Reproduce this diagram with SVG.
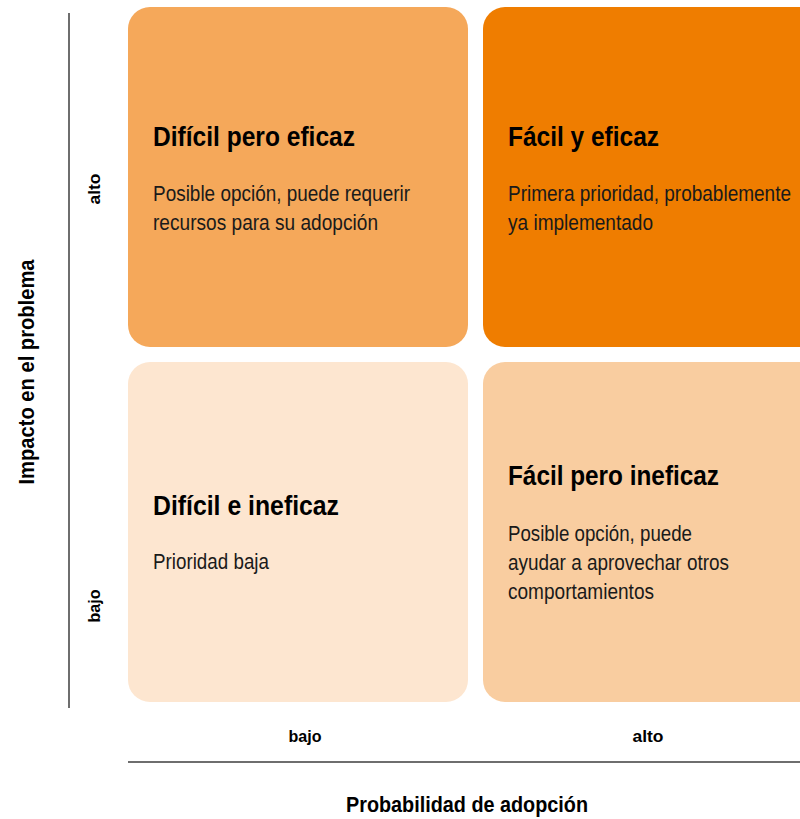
<svg xmlns="http://www.w3.org/2000/svg" width="800" height="819" viewBox="0 0 800 819">
<style>
.t{font-family:"Liberation Sans",Arial,sans-serif;font-weight:bold;font-size:27.5px;fill:#000}
.b{font-family:"Liberation Sans",Arial,sans-serif;font-size:21.5px;fill:#1a1a1a}
.ax{font-family:"Liberation Sans",Arial,sans-serif;font-weight:bold;font-size:17px;fill:#000}
.at{font-family:"Liberation Sans",Arial,sans-serif;font-weight:bold;font-size:22px;fill:#000}
.ln{stroke:#6e6e6e;stroke-width:2;fill:none}
</style>
<rect width="800" height="819" fill="#fff"/>
<g id="axes">
<line class="ln" x1="69" y1="13" x2="69" y2="708"/>
<line class="ln" x1="128" y1="762" x2="800" y2="762"/>
<text class="ax" x="305" y="742" text-anchor="middle" textLength="33" lengthAdjust="spacingAndGlyphs">bajo</text>
<text class="ax" x="648" y="742" text-anchor="middle" textLength="31" lengthAdjust="spacingAndGlyphs">alto</text>
<text class="at" x="467" y="812" text-anchor="middle" textLength="242" lengthAdjust="spacingAndGlyphs">Probabilidad de adopción</text>
<text class="ax" transform="translate(100,189) rotate(-90)" text-anchor="middle" textLength="31" lengthAdjust="spacingAndGlyphs">alto</text>
<text class="ax" transform="translate(100,606) rotate(-90)" text-anchor="middle" textLength="33" lengthAdjust="spacingAndGlyphs">bajo</text>
<text class="at" transform="translate(34,372) rotate(-90)" text-anchor="middle" textLength="225" lengthAdjust="spacingAndGlyphs">Impacto en el problema</text>
</g>
<g id="q-dificil-eficaz">
<rect x="128" y="7" width="340" height="340" rx="22" fill="#F5A85A"/>
<text class="t" x="153" y="146" textLength="202" lengthAdjust="spacingAndGlyphs">Difícil pero eficaz</text>
<text class="b" x="153" y="201" textLength="257" lengthAdjust="spacingAndGlyphs">Posible opción, puede requerir</text>
<text class="b" x="153" y="230" textLength="225" lengthAdjust="spacingAndGlyphs">recursos para su adopción</text>
</g>
<g id="q-facil-eficaz">
<path d="M505 7H800V347H505A22 22 0 0 1 483 325V29A22 22 0 0 1 505 7Z" fill="#EF7D00"/>
<text class="t" x="508" y="146" textLength="151" lengthAdjust="spacingAndGlyphs">Fácil y eficaz</text>
<text class="b" x="508" y="201" textLength="283" lengthAdjust="spacingAndGlyphs">Primera prioridad, probablemente</text>
<text class="b" x="508" y="230" textLength="145" lengthAdjust="spacingAndGlyphs">ya implementado</text>
</g>
<g id="q-dificil-ineficaz">
<rect x="128" y="362" width="340" height="340" rx="22" fill="#FDE6D0"/>
<text class="t" x="153" y="515" textLength="186" lengthAdjust="spacingAndGlyphs">Difícil e ineficaz</text>
<text class="b" x="153" y="569" textLength="116" lengthAdjust="spacingAndGlyphs">Prioridad baja</text>
</g>
<g id="q-facil-ineficaz">
<path d="M505 362H800V702H505A22 22 0 0 1 483 680V384A22 22 0 0 1 505 362Z" fill="#F9CDA0"/>
<text class="t" x="508" y="485" textLength="211" lengthAdjust="spacingAndGlyphs">Fácil pero ineficaz</text>
<text class="b" x="508" y="541" textLength="184" lengthAdjust="spacingAndGlyphs">Posible opción, puede</text>
<text class="b" x="508" y="570" textLength="221" lengthAdjust="spacingAndGlyphs">ayudar a aprovechar otros</text>
<text class="b" x="508" y="599" textLength="146" lengthAdjust="spacingAndGlyphs">comportamientos</text>
</g>
</svg>
